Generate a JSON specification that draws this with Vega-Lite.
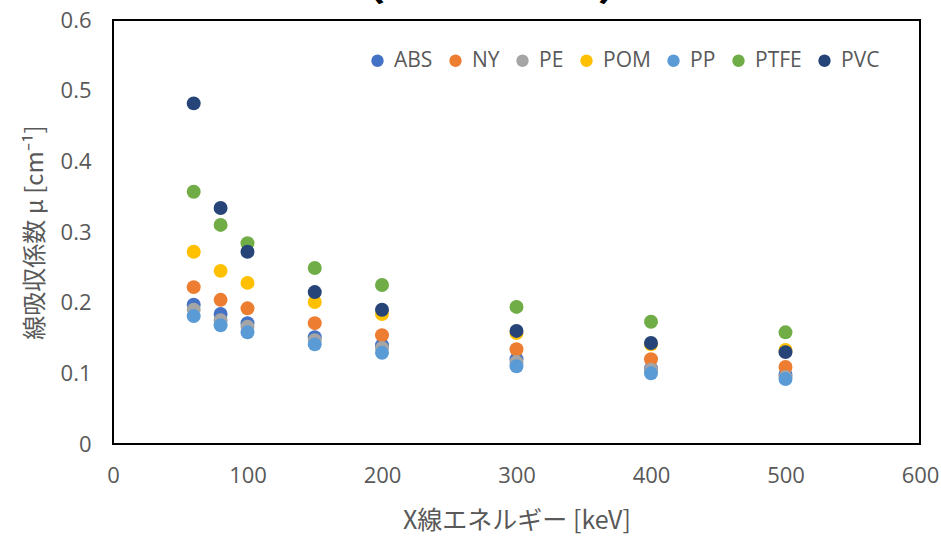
{
  "$schema": "https://vega.github.io/schema/vega-lite/v6.json",
  "autosize": {"type": "none"},
  "width": 807,
  "height": 424,
  "padding": {"left": 113, "top": 20, "right": 21, "bottom": 95},
  "background": "white",
  "title": {
    "text": "（150kV-CT）",
    "font": "Noto Sans CJK JP",
    "fontSize": 46,
    "fontWeight": "bold",
    "color": "#000000",
    "anchor": "middle",
    "frame": "group",
    "baseline": "top",
    "offset": 0,
    "dx": -25
  },
  "config": {
    "view": {"stroke": "#000000", "strokeWidth": 2},
    "axis": {
      "labelFont": "Open Sans",
      "labelFontSize": 22,
      "labelColor": "#595959",
      "titleFont": "Noto Sans CJK JP",
      "titleFontSize": 24,
      "titleFontWeight": "normal",
      "titleColor": "#595959",
      "grid": false,
      "domain": false,
      "ticks": false
    },
    "legend": {
      "labelFont": "Open Sans",
      "labelFontSize": 21,
      "labelColor": "#595959"
    }
  },
  "data": {
    "values": [
      {"energy": 60, "material": "ABS", "mu": 0.197},
      {"energy": 80, "material": "ABS", "mu": 0.184},
      {"energy": 100, "material": "ABS", "mu": 0.171},
      {"energy": 150, "material": "ABS", "mu": 0.151},
      {"energy": 200, "material": "ABS", "mu": 0.140},
      {"energy": 300, "material": "ABS", "mu": 0.120},
      {"energy": 400, "material": "ABS", "mu": 0.107},
      {"energy": 500, "material": "ABS", "mu": 0.098},
      {"energy": 60, "material": "NY", "mu": 0.222},
      {"energy": 80, "material": "NY", "mu": 0.204},
      {"energy": 100, "material": "NY", "mu": 0.192},
      {"energy": 150, "material": "NY", "mu": 0.171},
      {"energy": 200, "material": "NY", "mu": 0.154},
      {"energy": 300, "material": "NY", "mu": 0.134},
      {"energy": 400, "material": "NY", "mu": 0.120},
      {"energy": 500, "material": "NY", "mu": 0.109},
      {"energy": 60, "material": "PE", "mu": 0.190},
      {"energy": 80, "material": "PE", "mu": 0.175},
      {"energy": 100, "material": "PE", "mu": 0.166},
      {"energy": 150, "material": "PE", "mu": 0.147},
      {"energy": 200, "material": "PE", "mu": 0.136},
      {"energy": 300, "material": "PE", "mu": 0.116},
      {"energy": 400, "material": "PE", "mu": 0.105},
      {"energy": 500, "material": "PE", "mu": 0.095},
      {"energy": 60, "material": "POM", "mu": 0.272},
      {"energy": 80, "material": "POM", "mu": 0.245},
      {"energy": 100, "material": "POM", "mu": 0.228},
      {"energy": 150, "material": "POM", "mu": 0.201},
      {"energy": 200, "material": "POM", "mu": 0.184},
      {"energy": 300, "material": "POM", "mu": 0.157},
      {"energy": 400, "material": "POM", "mu": 0.141},
      {"energy": 500, "material": "POM", "mu": 0.133},
      {"energy": 60, "material": "PP", "mu": 0.181},
      {"energy": 80, "material": "PP", "mu": 0.168},
      {"energy": 100, "material": "PP", "mu": 0.158},
      {"energy": 150, "material": "PP", "mu": 0.141},
      {"energy": 200, "material": "PP", "mu": 0.129},
      {"energy": 300, "material": "PP", "mu": 0.110},
      {"energy": 400, "material": "PP", "mu": 0.100},
      {"energy": 500, "material": "PP", "mu": 0.092},
      {"energy": 60, "material": "PTFE", "mu": 0.357},
      {"energy": 80, "material": "PTFE", "mu": 0.310},
      {"energy": 100, "material": "PTFE", "mu": 0.284},
      {"energy": 150, "material": "PTFE", "mu": 0.249},
      {"energy": 200, "material": "PTFE", "mu": 0.225},
      {"energy": 300, "material": "PTFE", "mu": 0.194},
      {"energy": 400, "material": "PTFE", "mu": 0.173},
      {"energy": 500, "material": "PTFE", "mu": 0.158},
      {"energy": 60, "material": "PVC", "mu": 0.482},
      {"energy": 80, "material": "PVC", "mu": 0.334},
      {"energy": 100, "material": "PVC", "mu": 0.272},
      {"energy": 150, "material": "PVC", "mu": 0.215},
      {"energy": 200, "material": "PVC", "mu": 0.190},
      {"energy": 300, "material": "PVC", "mu": 0.160},
      {"energy": 400, "material": "PVC", "mu": 0.143},
      {"energy": 500, "material": "PVC", "mu": 0.130}
    ]
  },
  "mark": {"type": "point", "filled": true, "shape": "circle", "size": 195, "opacity": 1},
  "encoding": {
    "x": {
      "field": "energy",
      "type": "quantitative",
      "scale": {"domain": [0, 600], "nice": false},
      "axis": {"values": [0, 100, 200, 300, 400, 500, 600], "labelPadding": 21, "title": "X線エネルギー [keV]", "titlePadding": 22, "titleFontSize": 25, "labelFlush": false}
    },
    "y": {
      "field": "mu",
      "type": "quantitative",
      "scale": {"domain": [0, 0.6], "nice": false},
      "axis": {"values": [0, 0.1, 0.2, 0.3, 0.4, 0.5, 0.6], "format": ".1~f", "labelPadding": 22, "title": "線吸収係数 μ [cm⁻¹]", "titlePadding": 13, "labelFlush": false}
    },
    "color": {
      "field": "material",
      "type": "nominal",
      "scale": {
        "domain": ["ABS", "NY", "PE", "POM", "PP", "PTFE", "PVC"],
        "range": ["#4472C4", "#ED7D31", "#A5A5A5", "#FFC000", "#5B9BD5", "#70AD47", "#264478"]
      },
      "legend": {
        "title": null,
        "orient": "none",
        "direction": "horizontal",
        "legendX": 254,
        "legendY": 30,
        "symbolType": "circle",
        "symbolSize": 154,
        "labelOffset": 6,
        "columnPadding": 12
      }
    }
  }
}
